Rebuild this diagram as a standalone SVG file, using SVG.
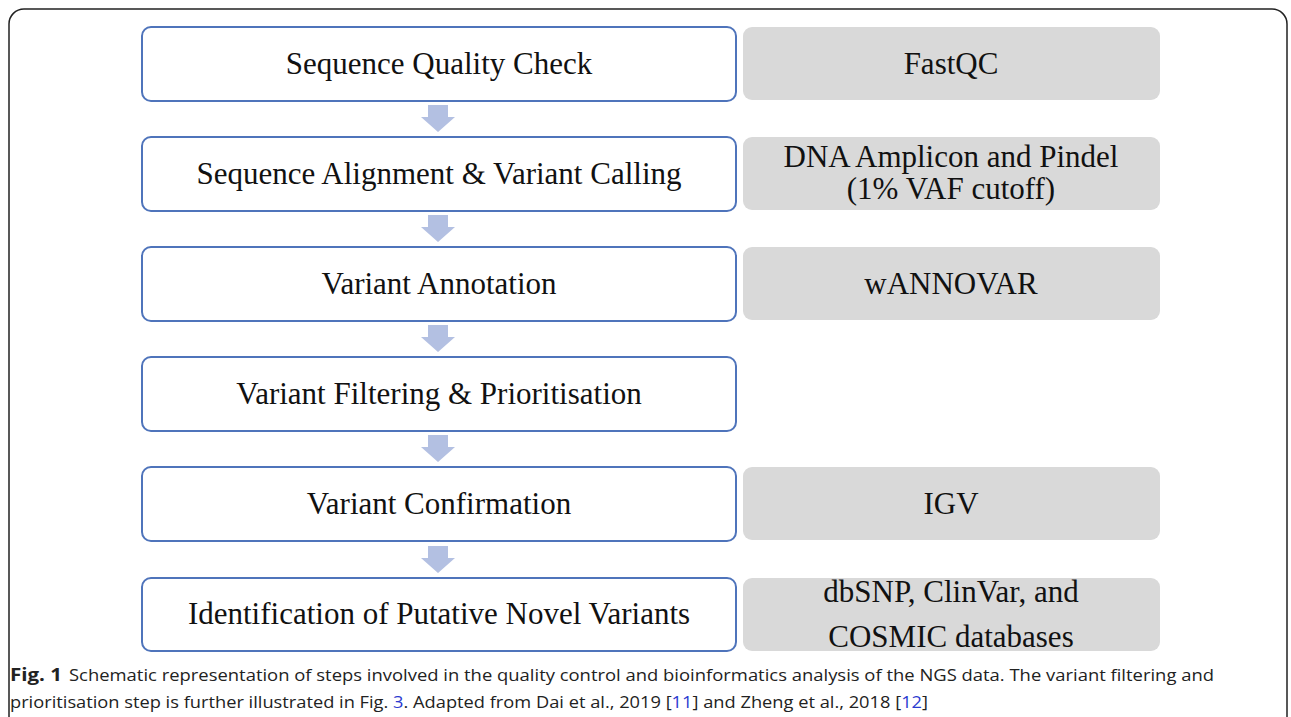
<svg xmlns="http://www.w3.org/2000/svg" width="1291" height="717" viewBox="0 0 1291 717">
<defs>
<style>
.step{fill:#fff;stroke:#4f74bb;stroke-width:2}
.tool{fill:#d9d9d9;stroke:none}
.t{font-family:"Liberation Serif","Times New Roman",serif;font-size:31px;fill:#111;text-anchor:middle}
.arr{fill:#b3c0e2}
.cap{font-family:"Open Sans","Noto Sans","Liberation Sans",sans-serif;font-size:17px;fill:#222}
.lnk{fill:#2b3bd0}
</style>
</defs>
<rect width="1291" height="717" fill="#fff"/>
<rect x="9" y="9" width="1278" height="740" rx="15" fill="none" stroke="#222" stroke-width="1.5"/>
<g id="connectors">
<path class="arr" d="M428 105H448V117H455L438 132L421 117H428Z"/>
<path class="arr" d="M428 215H448V227H455L438 242L421 227H428Z"/>
<path class="arr" d="M428 325H448V337H455L438 352L421 337H428Z"/>
<path class="arr" d="M428 435H448V447H455L438 462L421 447H428Z"/>
<path class="arr" d="M428 546H448V558H455L438 573L421 558H428Z"/>
</g>
<g id="step1"><rect class="step" x="142" y="27" width="594" height="74" rx="9"/><text class="t" x="439" y="74">Sequence Quality Check</text></g>
<g id="step2"><rect class="step" x="142" y="137" width="594" height="74" rx="9"/><text class="t" x="439" y="184">Sequence Alignment &amp; Variant Calling</text></g>
<g id="step3"><rect class="step" x="142" y="247" width="594" height="74" rx="9"/><text class="t" x="439" y="294">Variant Annotation</text></g>
<g id="step4"><rect class="step" x="142" y="357" width="594" height="74" rx="9"/><text class="t" x="439" y="404">Variant Filtering &amp; Prioritisation</text></g>
<g id="step5"><rect class="step" x="142" y="467" width="594" height="74" rx="9"/><text class="t" x="439" y="514">Variant Confirmation</text></g>
<g id="step6"><rect class="step" x="142" y="578" width="594" height="73" rx="9"/><text class="t" x="439" y="624">Identification of Putative Novel Variants</text></g>
<g id="tool1"><rect class="tool" x="743" y="27" width="417" height="73" rx="9"/><text class="t" x="951" y="74">FastQC</text></g>
<g id="tool2"><rect class="tool" x="743" y="137" width="417" height="73" rx="9"/><text class="t" x="951" y="167">DNA Amplicon and Pindel</text><text class="t" x="951" y="199">(1% VAF cutoff)</text></g>
<g id="tool3"><rect class="tool" x="743" y="247" width="417" height="73" rx="9"/><text class="t" x="951" y="294">wANNOVAR</text></g>
<g id="tool5"><rect class="tool" x="743" y="467" width="417" height="73" rx="9"/><text class="t" x="951" y="514">IGV</text></g>
<g id="tool6"><rect class="tool" x="743" y="578" width="417" height="73" rx="9"/><text class="t" x="951" y="602">dbSNP, ClinVar, and</text><text class="t" x="951" y="647">COSMIC databases</text></g>
<g id="caption">
<text class="cap" x="10" y="681" font-weight="bold" textLength="52" lengthAdjust="spacingAndGlyphs">Fig. 1</text>
<text class="cap" x="69" y="681" textLength="1145" lengthAdjust="spacingAndGlyphs">Schematic representation of steps involved in the quality control and bioinformatics analysis of the NGS data. The variant filtering and</text>
<text class="cap" x="10" y="708" textLength="918" lengthAdjust="spacingAndGlyphs">prioritisation step is further illustrated in Fig. <tspan class="lnk">3</tspan>. Adapted from Dai et al., 2019 [<tspan class="lnk">11</tspan>] and Zheng et al., 2018 [<tspan class="lnk">12</tspan>]</text>
</g>
</svg>
